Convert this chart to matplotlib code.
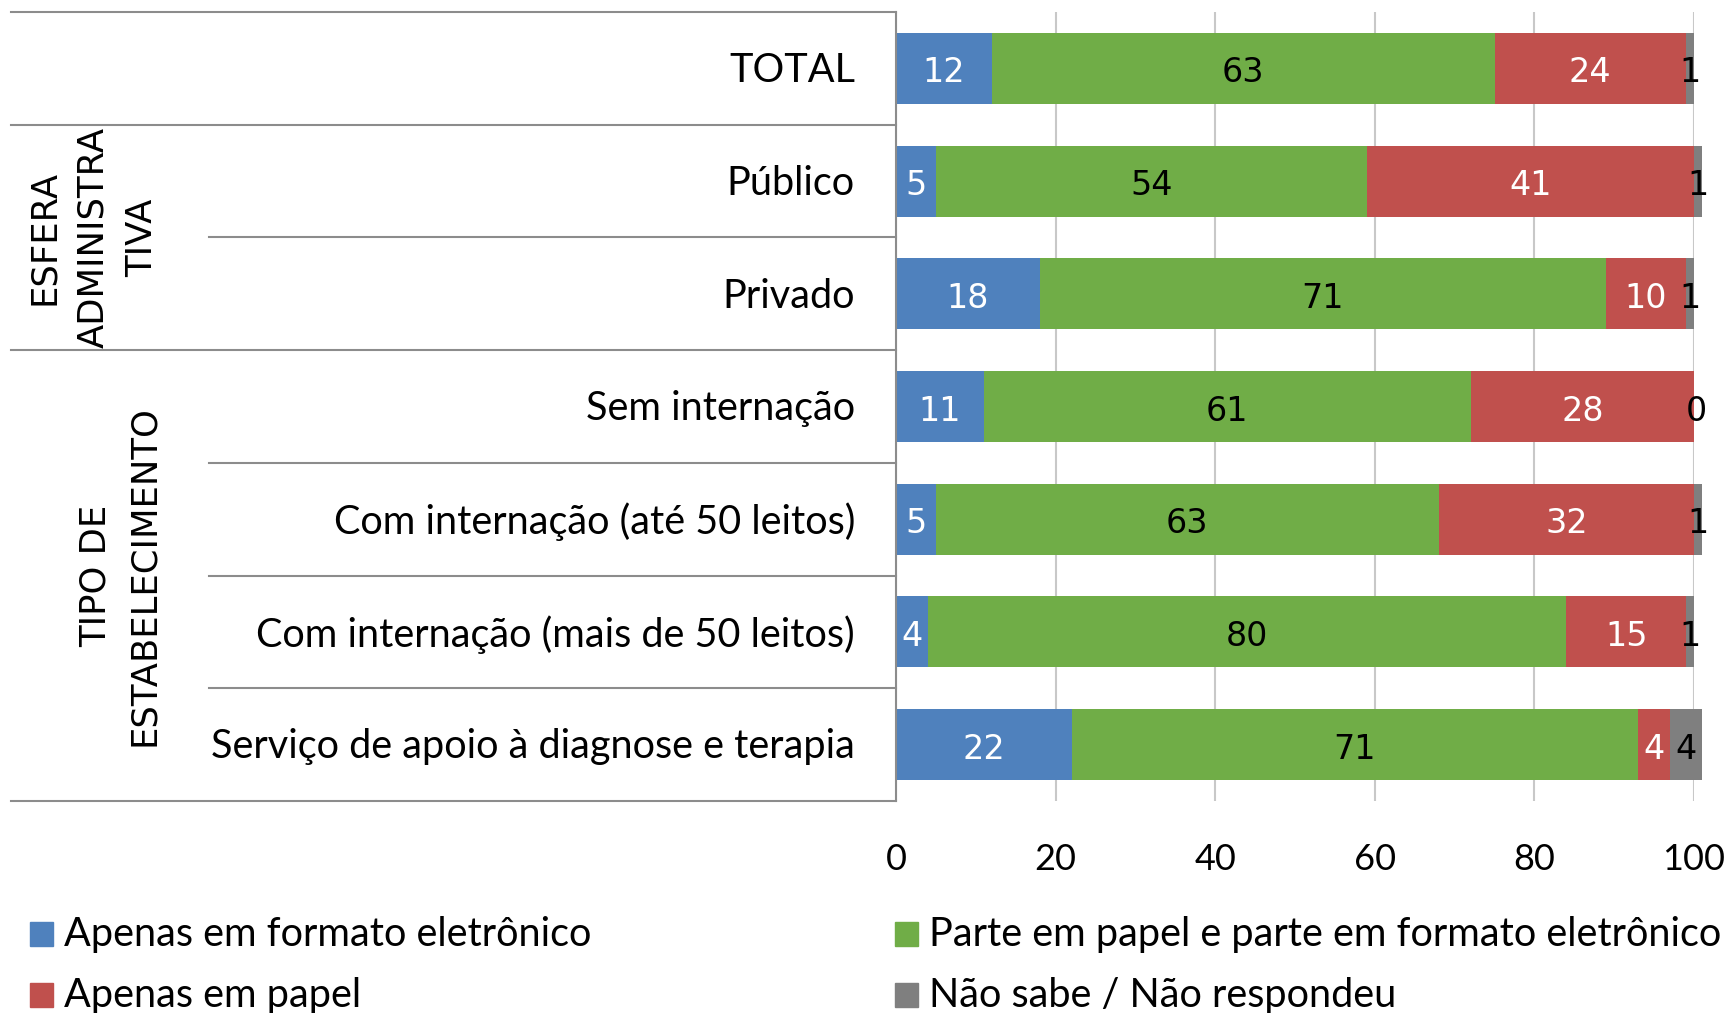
import matplotlib
matplotlib.use("Agg")
import matplotlib.pyplot as plt
import matplotlib.transforms as mtransforms
from matplotlib import font_manager
import numpy as np

categories = ["TOTAL", "Público", "Privado", "Sem internação",
              "Com internação (até 50 leitos)", "Com internação (mais de 50 leitos)",
              "Serviço de apoio à diagnose e terapia"]
series_names = ["Apenas em formato eletrônico", "Parte em papel e parte em formato eletrônico",
                "Apenas em papel", "Não sabe / Não respondeu"]
apenas_eletronico = [12, 5, 18, 11, 5, 4, 22]
parte_papel = [63, 54, 71, 61, 63, 80, 71]
apenas_papel = [24, 41, 10, 28, 32, 15, 4]
nao_sabe = [1, 1, 1, 0, 1, 1, 4]
x_ticks = [0, 20, 40, 60, 80, 100]
group_labels = ["ESFERA\nADMINISTRA\nTIVA", "TIPO DE\nESTABELECIMENTO"]

colors = ["#4F81BD", "#70AD47", "#C0504D", "#7F7F7F"]
label_colors = ["white", "black", "white", "black"]

avail = {f.name for f in font_manager.fontManager.ttflist}
main_font = next((f for f in ["Liberation Sans Narrow", "Lato", "Open Sans"] if f in avail), "DejaVu Sans")

W, H = 1729, 1013
fig = plt.figure(figsize=(W / 100, H / 100), dpi=100)
ax = fig.add_axes([896 / W, 1 - 801 / H, (1694 - 896) / W, (801 - 12) / H])

data = [apenas_eletronico, parte_papel, apenas_papel, nao_sabe]
y = np.arange(len(categories))
left = np.zeros(len(categories))
for vals, c, lc, name in zip(data, colors, label_colors, series_names):
    vals = np.array(vals, dtype=float)
    bars = ax.barh(y, vals, left=left, height=0.63, color=c, label=name, zorder=2)
    for b in bars:
        b.set_clip_on(False)
    for yi, (l, v) in enumerate(zip(left, vals)):
        xc = l + v / 2
        if v == 0:
            xc = l + 0.3
        ax.text(xc, yi + 0.04, f"{int(v)}", ha="center", va="center", color=lc,
                fontsize=24, family="DejaVu Sans", zorder=3, clip_on=False)
    left += vals

ax.set_xlim(0, 100)
ax.set_ylim(len(categories) - 0.5, -0.5)
ax.set_xticks(x_ticks)
ax.set_xticklabels([str(t) for t in x_ticks], fontsize=26, family=main_font)
ax.tick_params(axis="x", length=0, pad=30)
ax.set_yticks([])
ax.grid(axis="x", color="#C8C8C8", linewidth=1.5, zorder=0)
for s in ["top", "right", "bottom"]:
    ax.spines[s].set_visible(False)
ax.spines["left"].set_color("#8C8C8C")
ax.spines["left"].set_linewidth(1.5)

# left table
tr = mtransforms.blended_transform_factory(fig.transFigure, ax.transData)
full_lines = [-0.5, 0.5, 2.5, 6.5]
short_lines = [1.5, 3.5, 4.5, 5.5]
for yl in full_lines:
    ax.plot([11 / W, 896 / W], [yl, yl], transform=tr, color="#8C8C8C", lw=1.5, clip_on=False)
for yl in short_lines:
    ax.plot([209 / W, 896 / W], [yl, yl], transform=tr, color="#8C8C8C", lw=1.5, clip_on=False)

for yi, cat in enumerate(categories):
    ax.text(855 / W, yi + 0.02, cat, transform=tr, ha="right", va="center", fontsize=28.5, family=main_font)

ax.text(93 / W, 1.5, group_labels[0], transform=tr, rotation=90, ha="center", va="center",
        multialignment="center", fontsize=25.5, family="DejaVu Sans", linespacing=1.55)
ax.text(120 / W, 4.5, group_labels[1], transform=tr, rotation=90, ha="center", va="center",
        multialignment="center", fontsize=25.5, family="DejaVu Sans", linespacing=1.55)

# legend
leg_pos = [(30, 934), (895, 934), (30, 995), (895, 995)]
for (lx, ly), c, name in zip(leg_pos, colors, series_names):
    fig.patches.append(plt.Rectangle((lx / W, 1 - (ly + 12) / H), 23 / W, 24 / H,
                                     transform=fig.transFigure, color=c))
    fig.text((lx + 34) / W, 1 - ly / H, name, ha="left", va="center", fontsize=28.5, family=main_font)

fig.savefig("out.png", dpi=100)
